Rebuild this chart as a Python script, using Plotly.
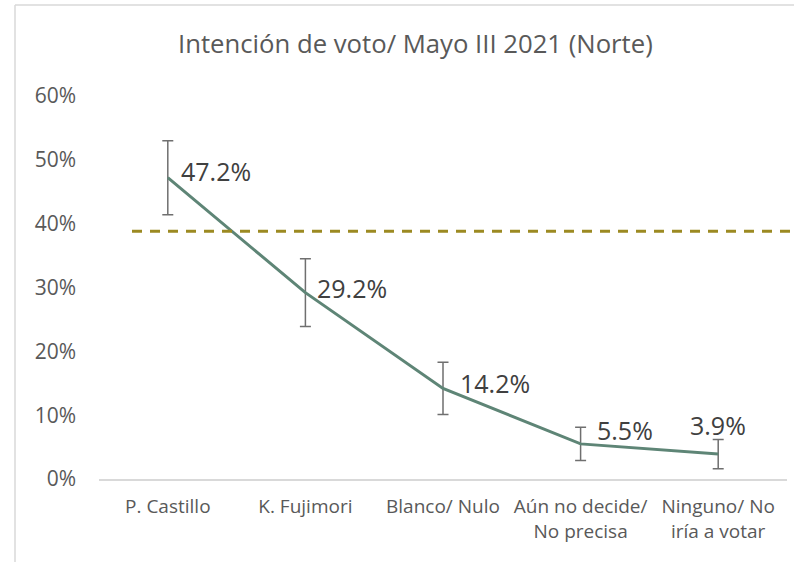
import plotly.graph_objects as go

categories = ["P. Castillo", "K. Fujimori", "Blanco/ Nulo", "Aún no decide/<br>No precisa", "Ninguno/ No<br>iría a votar"]
values = [47.2, 29.2, 14.2, 5.5, 3.9]          # percent
errors = [5.8, 5.3, 4.1, 2.6, 2.3]             # percent (+/-)
threshold = 38.8                               # dashed reference line, percent
y_ticks = [0, 10, 20, 30, 40, 50, 60]
title_text = "Intención de voto/ Mayo III 2021 (Norte)"

# label placement (pixels) — styling only
label_dx = [11, 10, 15, 14, 0]
label_dy = [7, 5, 5, 14, 29]
label_anchor = ["left", "left", "left", "left", "center"]

FONT = "Open Sans"
x = list(range(len(categories)))
yv = [v / 100 for v in values]
ye = [e / 100 for e in errors]

fig = go.Figure()
fig.add_trace(go.Scatter(
    x=x, y=yv, mode="lines",
    line=dict(color="#5e8576", width=3),
    error_y=dict(type="data", array=ye, symmetric=True, color="#6f6f6f", thickness=1.5, width=5.5),
    hoverinfo="skip", showlegend=False,
))

annotations = []
for xi, yi, v, dx, dy, anc in zip(x, yv, values, label_dx, label_dy, label_anchor):
    annotations.append(dict(
        x=xi, y=yi, xref="x", yref="y", text=f"{v:.1f}%", showarrow=False,
        xanchor=anc, yanchor="middle", xshift=dx, yshift=dy,
        font=dict(family=FONT, size=25, color="#404040"),
    ))
annotations.append(dict(
    x=(415 - 99) / 688, y=(479 - 44) / 383, xref="paper", yref="paper",
    text=title_text, showarrow=False, xanchor="center", yanchor="middle",
    font=dict(family=FONT, size=25.7, color="#595959"),
))

shapes = [
    dict(type="line", xref="paper", yref="y", x0=(132 - 99) / 688, x1=(796 - 99) / 688,
         y0=threshold / 100, y1=threshold / 100,
         line=dict(color="#9c8a22", width=3, dash="10px,8px")),
    dict(type="line", xref="paper", yref="paper", x0=(15 - 99) / 688, x1=(15 - 99) / 688,
         y0=(479 - 570) / 383, y1=(479 - 5) / 383, line=dict(color="#d9d9d9", width=1.5)),
    dict(type="line", xref="paper", yref="paper", x0=(15 - 99) / 688, x1=(800 - 99) / 688,
         y0=(479 - 5) / 383, y1=(479 - 5) / 383, line=dict(color="#d9d9d9", width=1.5)),
]

fig.update_layout(
    width=794, height=562,
    margin=dict(l=99, r=7, t=96, b=83, autoexpand=False),
    paper_bgcolor="white", plot_bgcolor="white",
    annotations=annotations, shapes=shapes,
    xaxis=dict(
        tickmode="array", tickvals=x, ticktext=categories, range=[-0.5, len(categories) - 0.5],
        showgrid=False, zeroline=False, showline=True, linecolor="#d9d9d9", linewidth=2,
        ticks="", tickfont=dict(family=FONT, size=19, color="#595959"), ticklabelstandoff=9,
        automargin=False,
    ),
    yaxis=dict(
        range=[0, 0.6], tickmode="array", tickvals=[t / 100 for t in y_ticks],
        ticktext=[f"{t}%" for t in y_ticks],
        showgrid=False, zeroline=False, showline=False, ticks="",
        tickfont=dict(family=FONT, size=21, color="#595959"), ticklabelstandoff=22,
        automargin=False,
    ),
)

fig.write_html(
    "out.html",
    config={"displayModeBar": False},
    post_script="document.body.style.margin='0px';document.body.style.overflow='hidden';",
)
